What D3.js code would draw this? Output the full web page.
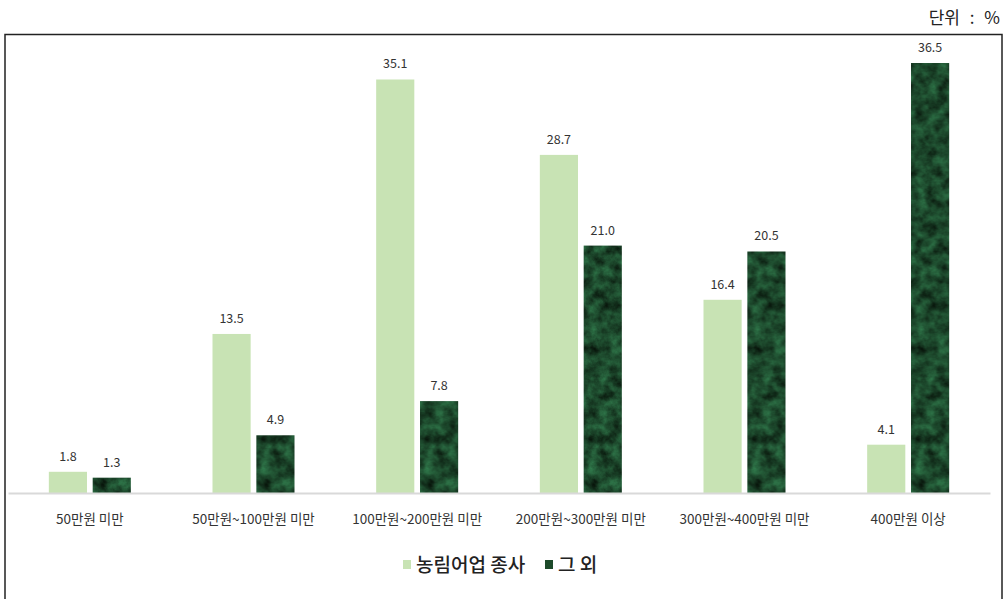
<!DOCTYPE html>
<html><head><meta charset="utf-8">
<script src="https://cdn.jsdelivr.net/npm/d3@7"></script>
<style>body{margin:0;background:#fff}svg{display:block}</style>
</head><body>
<script>
const categories = ["50만원 미만","50만원~100만원 미만","100만원~200만원 미만","200만원~300만원 미만","300만원~400만원 미만","400만원 이상"];
const seriesNames = ["농림어업 종사","그 외"];
const farmValues = [1.8,13.5,35.1,28.7,16.4,4.1];
const otherValues = [1.3,4.9,7.8,21.0,20.5,36.5];
const unitLabel = "단위 : %";

const W=1008,H=599;
const svg=d3.select("body").append("svg").attr("width",W).attr("height",H);
const defs=svg.append("defs");
// mottled green texture for dark series
const pat=defs.append("pattern").attr("id","tex").attr("patternUnits","userSpaceOnUse").attr("width",W).attr("height",H);
const f=defs.append("filter").attr("id","noise").attr("x",0).attr("y",0).attr("width","100%").attr("height","100%")
 .attr("color-interpolation-filters","sRGB");
f.append("feTurbulence").attr("type","fractalNoise").attr("baseFrequency","0.09").attr("numOctaves",4).attr("seed",7).attr("result","n");
f.append("feColorMatrix").attr("in","n").attr("type","matrix")
 .attr("values","0.2 0 0 0 0.01  0.5 0 0 0 0.03  0.32 0 0 0 0.01  0 0 0 0 1");
pat.append("rect").attr("width",W).attr("height",H).attr("fill","#1b4827");
pat.append("rect").attr("width",W).attr("height",H).attr("filter","url(#noise)");

const colors=["#c8e3b4","url(#tex)"];
const font="'Noto Sans CJK KR','Noto Sans',sans-serif";

// frame
svg.append("rect").attr("x",5).attr("y",34.5).attr("width",997).attr("height",580).attr("fill","none").attr("stroke","#222").attr("stroke-width",1.5);
svg.append("text").attr("x",1000).attr("y",24).attr("text-anchor","end").attr("font-family",font).attr("font-size",17).attr("word-spacing",6).attr("fill","#222").text(unitLabel);

const x0=d3.scaleBand().domain(categories).range([8,990]);
const x1=d3.scaleBand().domain(seriesNames).range([x0.bandwidth()/2-41,x0.bandwidth()/2+41]).paddingInner(0.13);
const y=d3.scaleLinear().domain([0,36.5]).range([493,63]);

const data=categories.map((c,i)=>({c,vals:[farmValues[i],otherValues[i]]}));
const g=svg.append("g");
const groups=g.selectAll("g.grp").data(data).join("g").attr("transform",d=>`translate(${x0(d.c)},0)`);
groups.selectAll("rect").data(d=>d.vals.map((v,k)=>({v,k}))).join("rect")
 .attr("x",d=>x1(seriesNames[d.k])).attr("width",x1.bandwidth())
 .attr("y",d=>y(d.v)).attr("height",d=>y(0)-y(d.v)).attr("fill",d=>colors[d.k]);
groups.selectAll("text").data(d=>d.vals.map((v,k)=>({v,k}))).join("text")
 .attr("x",d=>x1(seriesNames[d.k])+x1.bandwidth()/2).attr("y",d=>y(d.v)-11)
 .attr("text-anchor","middle").attr("font-family",font).attr("font-size",12.5).attr("fill","#333")
 .text(d=>d.v.toFixed(1));

// baseline axis
const ax=svg.append("g").attr("transform",`translate(0,${y(0)})`).call(d3.axisBottom(x0).tickSize(0).tickPadding(21));
ax.select(".domain").attr("stroke","#d9d9d9").attr("stroke-width",2);
ax.selectAll("text").attr("font-family",font).attr("font-size",13.5).attr("fill","#333");

// legend
const lg=svg.append("g");
const items=[{n:seriesNames[0],c:colors[0],x:403},{n:seriesNames[1],c:"#1d4a2a",x:545}];
items.forEach(it=>{
  lg.append("rect").attr("x",it.x).attr("y",560).attr("width",8).attr("height",9).attr("fill",it.c);
  lg.append("text").attr("x",it.x+13).attr("y",572).attr("font-family",font).attr("font-size",19).attr("font-weight",500).attr("fill","#222").text(it.n);
});
</script>
</body></html>
